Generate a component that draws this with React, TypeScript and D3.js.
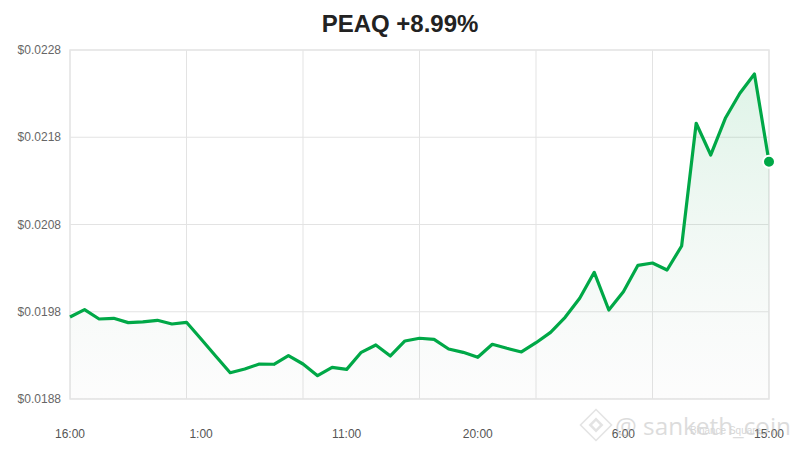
import React from "react";
import * as d3 from "d3"

// hourly closes, 16:00 -> 15:00 (49 points)
const prices = [
    0.019740, 0.019824, 0.019717, 0.019725, 0.019675, 0.019683, 0.019702, 0.019660, 0.019679,
    0.019488, 0.019293, 0.019101, 0.019144, 0.019201, 0.019198, 0.019296, 0.019201, 0.019067,
    0.019163, 0.019140, 0.019335, 0.019419, 0.019293, 0.019465, 0.019496, 0.019484, 0.019373,
    0.019335, 0.019278, 0.019427, 0.019381, 0.019339, 0.019445, 0.019564, 0.019736, 0.019954,
    0.020252, 0.019820, 0.020030, 0.020332, 0.020359, 0.020278, 0.020554, 0.021960, 0.021597,
    0.022017, 0.022304, 0.022525, 0.021520,
]
const xTickIdx = [0, 9, 19, 28, 38, 48]
const xTickLabels = ["16:00", "1:00", "11:00", "20:00", "6:00", "15:00"]
const yTicks = [0.0188, 0.0198, 0.0208, 0.0218, 0.0228]
const xGridIdx = [0, 8, 16, 24, 32, 40, 48]
const title = "PEAQ +8.99%"

const W = 800
const H = 450
const margin = { top: 50, right: 31, bottom: 51, left: 70 }
const green = "#00a847"
const font = "'Liberation Sans', Arial, sans-serif"

export default class App extends React.Component {
    svg: React.RefObject<SVGSVGElement> = React.createRef<SVGSVGElement>()
    componentDidMount() {
        //@ts-ignore
        const svg = d3.select(this.svg.current)
        svg.selectAll("*").remove()
        const x = d3.scaleLinear().domain([0, prices.length - 1]).range([margin.left, W - margin.right])
        const y = d3.scaleLinear().domain([0.0188, 0.0228]).range([H - margin.bottom, margin.top])

        const defs = svg.append("defs")
        const grad = defs.append("linearGradient")
            .attr("id", "areaFill")
            .attr("gradientUnits", "userSpaceOnUse")
            .attr("x1", 0).attr("x2", 0)
            .attr("y1", y(d3.max(prices) as number)).attr("y2", y(0.0188))
        grad.append("stop").attr("offset", 0).attr("stop-color", green).attr("stop-opacity", 0.13)
        grad.append("stop").attr("offset", 1).attr("stop-color", "#bbbbbb").attr("stop-opacity", 0.04)

        const grid = svg.append("g").attr("stroke", "#e3e3e3").attr("stroke-width", 1)
        grid.selectAll("line.h").data(yTicks).join("line")
            .attr("x1", margin.left).attr("x2", W - margin.right)
            .attr("y1", d => y(d)).attr("y2", d => y(d))
        grid.selectAll("line.v").data(xGridIdx).join("line")
            .attr("x1", d => x(d)).attr("x2", d => x(d))
            .attr("y1", margin.top).attr("y2", H - margin.bottom)
        svg.append("rect")
            .attr("x", margin.left).attr("y", margin.top)
            .attr("width", W - margin.left - margin.right)
            .attr("height", H - margin.top - margin.bottom)
            .attr("fill", "none").attr("stroke", "#e6e6e6").attr("stroke-width", 1.5)

        const area = d3.area<number>()
            .x((d, i) => x(i))
            .y0(y(0.0188))
            .y1(d => y(d))
        const line = d3.line<number>()
            .x((d, i) => x(i))
            .y(d => y(d))
        svg.append("path").attr("fill", "url(#areaFill)").attr("d", area(prices))
        svg.append("path")
            .attr("fill", "none")
            .attr("stroke", green)
            .attr("stroke-width", 3.2)
            .attr("stroke-linejoin", "round")
            .attr("d", line(prices))
        const last = prices.length - 1
        svg.append("circle")
            .attr("cx", x(last)).attr("cy", y(prices[last]))
            .attr("r", 6).attr("fill", green)
            .attr("stroke", "#fff").attr("stroke-width", 2)

        svg.append("g").selectAll("text").data(yTicks).join("text")
            .attr("x", margin.left - 9).attr("y", d => y(d))
            .attr("dy", "0.35em").attr("text-anchor", "end")
            .attr("font-family", font).attr("font-size", 12).attr("fill", "#666")
            .text(d => "$" + d.toFixed(4))
        svg.append("g").selectAll("text").data(xTickIdx).join("text")
            .attr("x", d => x(d)).attr("y", 438)
            .attr("text-anchor", "middle")
            .attr("font-family", font).attr("font-size", 12).attr("fill", "#555")
            .text((d, i) => xTickLabels[i])

        svg.append("text")
            .attr("x", W / 2).attr("y", 32)
            .attr("text-anchor", "middle")
            .attr("font-family", font).attr("font-size", 24).attr("font-weight", "bold")
            .attr("fill", "#222")
            .text(title)

        // watermark
        const wm = svg.append("g").attr("opacity", 0.4)
        const lg = wm.append("g").attr("transform", "translate(596,425) rotate(45)")
            .attr("fill", "none").attr("stroke", "#bbb").attr("stroke-width", 2.5)
        lg.append("rect").attr("x", -4).attr("y", -4).attr("width", 8).attr("height", 8)
        lg.append("rect").attr("x", -11).attr("y", -11).attr("width", 22).attr("height", 22).attr("stroke-width", 1.5)
        wm.append("text")
            .attr("x", 615).attr("y", 435)
            .attr("font-family", "'Open Sans', sans-serif").attr("font-size", 24)
            .attr("textLength", 176).attr("lengthAdjust", "spacingAndGlyphs")
            .attr("fill", "#aaa")
            .text("@ sanketh_coin")
        wm.append("text")
            .attr("x", 690).attr("y", 434)
            .attr("font-family", font).attr("font-size", 10)
            .attr("fill", "#999")
            .text("Binance Square")
    }
    render(): React.ReactNode {
        return (
            <>
                <svg ref={this.svg} width={W} height={H} viewBox={`0 0 ${W} ${H}`}
                    style={{ position: "absolute", left: 0, top: 0, background: "#fff" }}></svg>
            </>
        )
    }
}
